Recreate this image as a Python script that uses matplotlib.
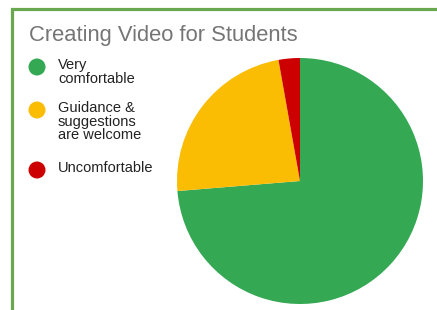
import matplotlib.pyplot as plt
from matplotlib.patches import Rectangle, Ellipse

plt.rcParams['font.family'] = ['Liberation Sans', 'DejaVu Sans']

title = 'Creating Video for Students'
labels = ['Very\ncomfortable', 'Guidance &\nsuggestions\nare welcome', 'Uncomfortable']
values = [73.7, 23.5, 2.8]
colors = ['#34a853', '#fbbc04', '#cc0000']

W, H = 437, 310
fig = plt.figure(figsize=(W / 100, H / 100), dpi=100)

# green frame, only top and left edges are visible in the crop
fig.add_artist(Rectangle((12 / W, -0.1), 1.2, (H - 8.5) / H + 0.1, transform=fig.transFigure,
                         fill=False, edgecolor='#6aa84f', linewidth=2.3))

fig.text(29 / W, 1 - 36 / H, title, fontsize=15.8, color='#757575', va='center', ha='left')

# pie, center (300,181) radius 123 in pixels
cx, cy, r = 300, 181, 123
ax = fig.add_axes([(cx - r) / W, (H - cy - r) / H, 2 * r / W, 2 * r / H])
ax.pie(values, colors=colors, startangle=90, counterclock=False,
       wedgeprops=dict(linewidth=0))
ax.set_xlim(-1, 1)
ax.set_ylim(-1, 1)
ax.set_aspect('equal')
ax.axis('off')

# legend
legend_y = [67, 110, 170]
for lab, col, y in zip(labels, colors, legend_y):
    fig.add_artist(Ellipse((37 / W, 1 - y / H), 17 / W, 17 / H, transform=fig.transFigure,
                           color=col, linewidth=0))
    fig.text(58 / W, 1 - (y - 8.5) / H, lab, fontsize=10.5, color='#222222',
             va='top', ha='left', linespacing=0.95)

fig.savefig('out.png', dpi=100)
